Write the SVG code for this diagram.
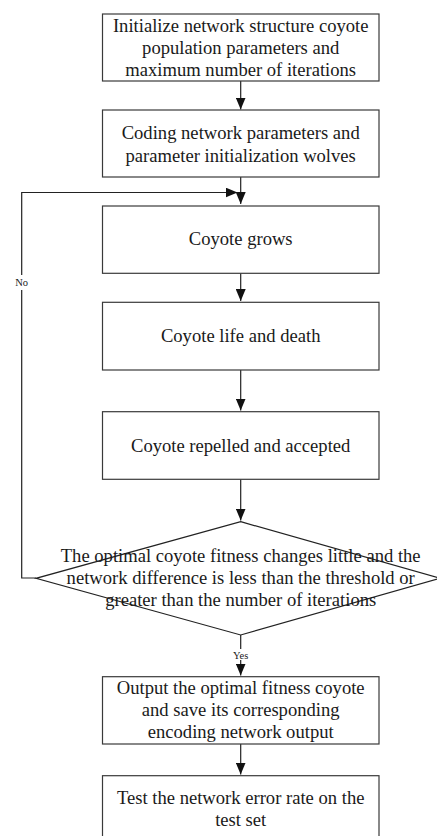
<svg xmlns="http://www.w3.org/2000/svg" width="437" height="836" viewBox="0 0 437 836">
<defs>
<marker id="arr" markerUnits="userSpaceOnUse" markerWidth="12" markerHeight="10" refX="12" refY="5" orient="auto" viewBox="0 0 12 10">
<path d="M0,0 L12,5 L0,10 Z" fill="#111"/>
</marker>
</defs>
<style>
.box{fill:#fff;stroke:#3a3a3a;stroke-width:1.2}
.t{font-family:"Liberation Serif","Times New Roman",serif;font-size:18.6px;fill:#1a1a1a;text-anchor:middle}
.s{font-family:"Liberation Serif","Times New Roman",serif;font-size:10.5px;fill:#1a1a1a;text-anchor:middle}
.ln{fill:none;stroke:#222;stroke-width:1.2}
</style>
<rect width="437" height="836" fill="#fff"/>
<g id="connectors">
<path class="ln" d="M240.7,81 V109.5" marker-end="url(#arr)"/>
<path class="ln" d="M240.7,177 V204" marker-end="url(#arr)"/>
<path class="ln" d="M36,578 H21.7 V192.5 H237.5" marker-end="url(#arr)"/>
<path class="ln" d="M240.7,273.3 V301" marker-end="url(#arr)"/>
<path class="ln" d="M240.7,370 V410.5" marker-end="url(#arr)"/>
<path class="ln" d="M240.7,479.3 V520.5" marker-end="url(#arr)"/>
<path class="ln" d="M240.7,635 V675.5" marker-end="url(#arr)"/>
<path class="ln" d="M240.7,744 V774.5" marker-end="url(#arr)"/>
<rect x="14" y="275" width="16" height="15" fill="#fff"/>
<text class="s" x="21.7" y="286.3">No</text>
<rect x="231" y="649" width="19" height="11" fill="#fff"/>
<text class="s" x="240.7" y="658.5">Yes</text>
</g>
<g id="n1">
<rect class="box" x="102.5" y="14" width="276.5" height="67"/>
<text class="t" x="240.7" y="32">Initialize network structure coyote</text>
<text class="t" x="240.7" y="54">population parameters and</text>
<text class="t" x="240.7" y="76">maximum number of iterations</text>
</g>
<g id="n2">
<rect class="box" x="102.5" y="110" width="276.5" height="67"/>
<text class="t" x="240.7" y="139">Coding network parameters and</text>
<text class="t" x="240.7" y="162">parameter initialization wolves</text>
</g>
<g id="n3">
<rect class="box" x="102.5" y="206" width="276.5" height="67.3"/>
<text class="t" x="240.7" y="245">Coyote grows</text>
</g>
<g id="n4">
<rect class="box" x="102.5" y="302.3" width="276.5" height="67.7"/>
<text class="t" x="240.7" y="341.7">Coyote life and death</text>
</g>
<g id="n5">
<rect class="box" x="102.5" y="411.7" width="276.5" height="67.6"/>
<text class="t" x="240.7" y="451.7">Coyote repelled and accepted</text>
</g>
<g id="n6">
<polygon points="240.7,521.7 440,578.3 240.7,635 36,578.3" fill="none" stroke="#222" stroke-width="1.2"/>
<text class="t" x="240.7" y="561.7">The optimal coyote fitness changes little and the</text>
<text class="t" x="240.7" y="583.5">network difference is less than the threshold or</text>
<text class="t" x="240.7" y="606">greater than the number of iterations</text>
</g>
<g id="n7">
<rect class="box" x="102.5" y="676.7" width="276.5" height="67.3"/>
<text class="t" x="240.7" y="693.5">Output the optimal fitness coyote</text>
<text class="t" x="240.7" y="716">and save its corresponding</text>
<text class="t" x="240.7" y="738">encoding network output</text>
</g>
<g id="n8">
<rect class="box" x="102.5" y="775.7" width="276.5" height="70"/>
<text class="t" x="240.7" y="804">Test the network error rate on the</text>
<text class="t" x="240.7" y="826">test set</text>
</g>
</svg>
